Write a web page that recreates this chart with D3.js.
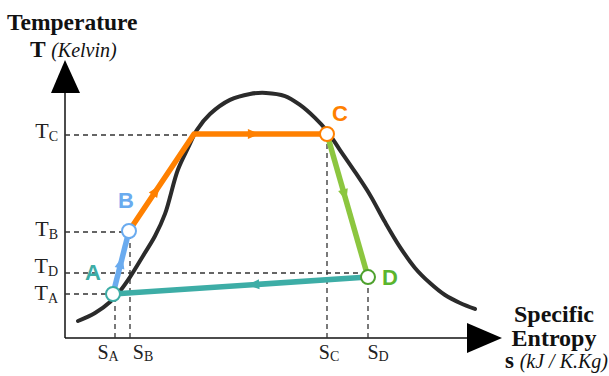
<!DOCTYPE html>
<html>
<head>
<meta charset="utf-8">
<script src="https://cdn.jsdelivr.net/npm/d3@7/dist/d3.min.js"></script>
<style>
  html, body { margin: 0; padding: 0; background: #fff; }
  svg { display: block; }
</style>
</head>
<body>
<svg id="chart" width="609" height="376"></svg>
<script>
// Saturation dome (T–s), in chart units
const domeS = [0.325, 0.75, 1.125, 1.375, 1.625, 1.95, 2.25, 2.5, 2.82, 3.075, 3.3, 3.625, 4.125, 4.625, 5.025, 5.5, 5.875, 6.25, 6.55, 6.875, 7.25, 7.625, 8.0, 8.375, 8.75, 9.125, 9.5, 9.875, 10.25];
const domeT = [0.708, 1.04, 1.5, 1.96, 2.54, 3.42, 4.25, 5.17, 7.0, 7.92, 8.67, 9.33, 9.92, 10.17, 10.21, 10.08, 9.71, 9.17, 8.625, 7.83, 6.92, 5.96, 4.83, 3.79, 2.92, 2.29, 1.79, 1.46, 1.21];

// Cycle states
const stateNames = ["A", "B", "C", "D"];
const stateS = [1.2, 1.6, 6.55, 7.575];
const stateT = [1.833, 4.458, 8.5, 2.54];
// Point where B→C meets the saturated-vapour plateau
const kneeS = 3.225;
const kneeT = 8.5;

// Axis tick labels
const tTickNames = ["A", "B", "C", "D"];
const tTickValues = [1.833, 4.417, 8.458, 2.708];
const sTickNames = ["A", "B", "C", "D"];
const sTickValues = [1.25, 1.625, 6.55, 7.575];

const colors = { A: "#3dada6", B: "#6aabef", C: "#ff8000", D: "#8cc63f" };
const circleStroke = { A: "#3dada6", B: "#6aabef", C: "#ff8000", D: "#4ea12d" };
const labelColor = { A: "#3dada6", B: "#6aabef", C: "#ff8000", D: "#5ab52e" };

const svg = d3.select("#chart");
const x = d3.scaleLinear().domain([0, 10]).range([65, 465]);
const y = d3.scaleLinear().domain([0, 10]).range([338, 98]);

const serif = "'Liberation Serif', 'Times New Roman', serif";
const sans = "'Liberation Sans', Arial, sans-serif";

// Axes
const axisY = y(0);
const axisX = x(0);
svg.append("line").attr("x1", axisX).attr("y1", axisY).attr("x2", axisX).attr("y2", 90)
  .attr("stroke", "#111").attr("stroke-width", 1.5);
svg.append("line").attr("x1", axisX).attr("y1", axisY).attr("x2", 470).attr("y2", axisY)
  .attr("stroke", "#111").attr("stroke-width", 1.5);
svg.append("path").attr("d", `M${axisX},60 L${axisX + 15},93 L${axisX - 14},93 Z`).attr("fill", "#000");
svg.append("path").attr("d", `M502,${axisY} L467,${axisY - 15} L467,${axisY + 15} Z`).attr("fill", "#000");

// Axis titles
svg.append("text").attr("x", 7).attr("y", 30).attr("font-family", serif).attr("font-weight", "bold")
  .attr("font-size", 23.5).attr("fill", "#111").text("Temperature");
const tTitle = svg.append("text").attr("x", 30).attr("y", 57).attr("font-family", serif).attr("fill", "#111");
tTitle.append("tspan").attr("font-weight", "bold").attr("font-size", 23.5).text("T ");
tTitle.append("tspan").attr("font-style", "italic").attr("font-size", 20).text("(Kelvin)");

svg.append("text").attr("x", 554).attr("y", 322).attr("text-anchor", "middle").attr("font-family", serif)
  .attr("font-weight", "bold").attr("font-size", 24).attr("fill", "#111").text("Specific");
svg.append("text").attr("x", 554).attr("y", 346).attr("text-anchor", "middle").attr("font-family", serif)
  .attr("font-weight", "bold").attr("font-size", 24).attr("fill", "#111").text("Entropy");
const sTitle = svg.append("text").attr("x", 608).attr("y", 368).attr("text-anchor", "end")
  .attr("font-family", serif).attr("fill", "#111");
sTitle.append("tspan").attr("font-weight", "bold").attr("font-size", 23).text("s ");
sTitle.append("tspan").attr("font-style", "italic").attr("font-size", 20).text("(kJ / K.Kg)");

// Dashed guide lines from the axes to each state
const dash = "5,4";
tTickNames.forEach((n, i) => {
  const si = stateNames.indexOf(n);
  svg.append("line").attr("x1", axisX).attr("x2", x(stateS[si]))
    .attr("y1", y(tTickValues[i])).attr("y2", y(tTickValues[i]))
    .attr("stroke", "#333").attr("stroke-width", 1.3).attr("stroke-dasharray", dash);
});
sTickNames.forEach((n, i) => {
  const si = stateNames.indexOf(n);
  svg.append("line").attr("x1", x(sTickValues[i])).attr("x2", x(sTickValues[i]))
    .attr("y1", axisY).attr("y2", y(stateT[si]))
    .attr("stroke", "#333").attr("stroke-width", 1.3).attr("stroke-dasharray", dash);
});

// Tick labels: T on the vertical axis, S on the horizontal axis
const tLabelShift = [6, 4, 3, 0];
tTickNames.forEach((n, i) => {
  const t = svg.append("text").attr("x", 58).attr("y", y(tTickValues[i]) + tLabelShift[i])
    .attr("text-anchor", "end").attr("font-family", serif).attr("fill", "#222");
  t.append("tspan").attr("font-size", 22).text("T");
  t.append("tspan").attr("font-size", 14).attr("dy", 3).text(n);
});
const sLabelShift = [-7, 13, 2, 10];
sTickNames.forEach((n, i) => {
  const t = svg.append("text").attr("x", x(sTickValues[i]) + sLabelShift[i]).attr("y", 359)
    .attr("text-anchor", "middle").attr("font-family", serif).attr("fill", "#222");
  t.append("tspan").attr("font-size", 20).text("S");
  t.append("tspan").attr("font-size", 14).attr("dy", 2).text(n);
});

// Saturation dome
const dome = d3.line().x(d => x(d[0])).y(d => y(d[1])).curve(d3.curveCatmullRom.alpha(0.5));
svg.append("path").attr("d", dome(domeS.map((s, i) => [s, domeT[i]])))
  .attr("fill", "none").attr("stroke", "#2b2b2b").attr("stroke-width", 4).attr("stroke-linecap", "round");

// Cycle legs
const P = n => { const i = stateNames.indexOf(n); return [stateS[i], stateT[i]]; };
const legs = [
  { pts: [P("D"), P("A")], color: colors.A, arrow: [[0, 0.45]] },
  { pts: [P("A"), P("B")], color: colors.B, arrow: [[0, 0.5]] },
  { pts: [P("C"), P("D")], color: colors.D, arrow: [[0, 0.43]] },
  { pts: [P("B"), [kneeS, kneeT], P("C")], color: colors.C, arrow: [[0, 0.42], [1, 0.45]] }
];
const leg = d3.line().x(d => x(d[0])).y(d => y(d[1]));
legs.forEach(l => {
  svg.append("path").attr("d", leg(l.pts)).attr("fill", "none").attr("stroke", l.color)
    .attr("stroke-width", 5.5).attr("stroke-linejoin", "round");
  l.arrow.forEach(([seg, f]) => {
    const p0 = [x(l.pts[seg][0]), y(l.pts[seg][1])];
    const p1 = [x(l.pts[seg + 1][0]), y(l.pts[seg + 1][1])];
    const mx = p0[0] + (p1[0] - p0[0]) * f, my = p0[1] + (p1[1] - p0[1]) * f;
    const ang = Math.atan2(p1[1] - p0[1], p1[0] - p0[0]) * 180 / Math.PI;
    svg.append("path").attr("d", "M6,0 L-6,-5 L-6,5 Z").attr("fill", l.color)
      .attr("transform", `translate(${mx},${my}) rotate(${ang})`);
  });
});

// State markers and letters
const letterPos = { A: [-20, -14], B: [-3, -23], C: [13, -13], D: [22, 8] };
stateNames.forEach((n, i) => {
  svg.append("circle").attr("cx", x(stateS[i])).attr("cy", y(stateT[i])).attr("r", 7)
    .attr("fill", "#fff").attr("stroke", circleStroke[n]).attr("stroke-width", 2);
  svg.append("text").attr("x", x(stateS[i]) + letterPos[n][0]).attr("y", y(stateT[i]) + letterPos[n][1])
    .attr("text-anchor", "middle").attr("font-family", sans).attr("font-weight", "bold")
    .attr("font-size", 22).attr("fill", labelColor[n]).text(n);
});
</script>
</body>
</html>
